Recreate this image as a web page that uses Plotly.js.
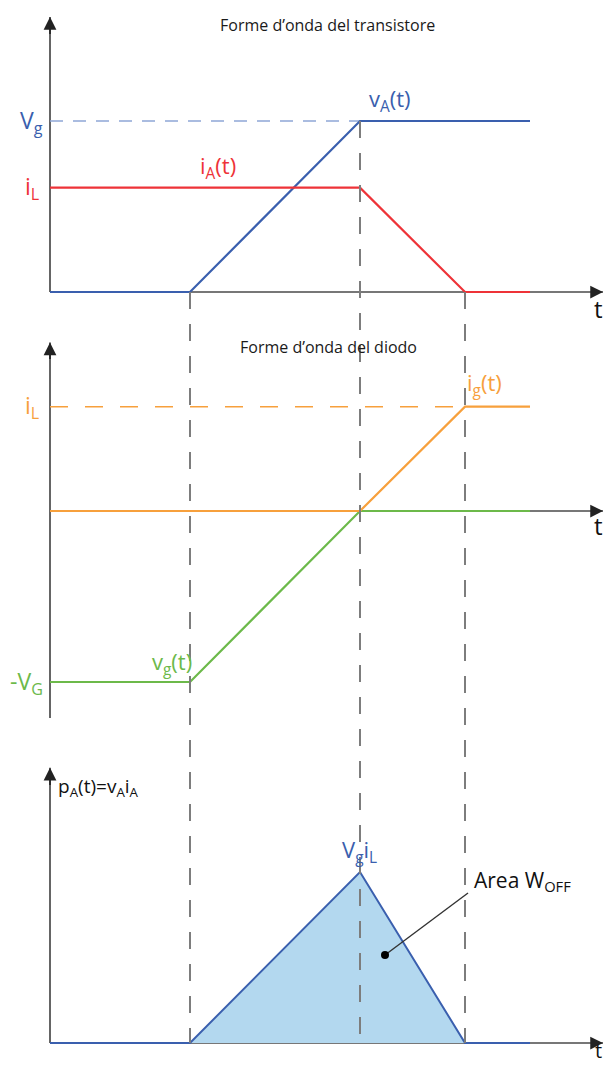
<!DOCTYPE html>
<html>
<head>
<meta charset="utf-8">
<script src="https://cdn.plot.ly/plotly-3.0.1.min.js"></script>
<style>
  html, body { margin: 0; padding: 0; background: #fff; }
  #chart { width: 605px; height: 1065px; }
</style>
</head>
<body>
<div id="chart"></div>
<script>
// Switching instants (normalised time units)
const switchTimes = [1.4, 3.1, 4.15];   // t1: v rises, t2: v = Vg / i starts falling, t3: i = 0
const tEnd = 4.8;

// Normalised levels
const levelVg = 1.0;     // Vg (and VG for the diode)
const levelIL = 0.61;    // iL relative to Vg

// Transistor waveforms
const timeVA = [0, 1.4, 3.1, 4.8];
const valVA  = [0, 0, 1.0, 1.0];
const timeIA = [0, 3.1, 4.15, 4.8];
const valIA  = [0.61, 0.61, 0, 0];

// Diode waveforms
const timeIG = [0, 3.1, 4.15, 4.8];
const valIG  = [0, 0, 0.61, 0.61];
const timeVG = [0, 1.4, 3.1, 4.8];
const valVG  = [-1.0, -1.0, 0, 0];

// Instantaneous transistor power, peak = Vg*iL
const timeP = [0, 1.4, 3.1, 4.15, 4.8];
const valP  = [0, 0, 1.0, 0, 0];

// Point inside the turn-off energy area and its label anchor
const areaPoint = [3.35, 0.515];
const areaLabel = [4.18, 0.877];

// ---- page geometry (pixels) ----
const W = 605, H = 1065;
const P1 = { top: 0,   bottom: 322, zero: 292,  unit: 171 };
const P2 = { top: 326, bottom: 735, zero: 511,  unit: 171 };
const P3 = { top: 740, bottom: 1065, zero: 1043, unit: 171 };

function axisFor(p) {
  return {
    domain: [(H - p.bottom) / H, (H - p.top) / H],
    range: [(p.zero - p.bottom) / p.unit, (p.zero - p.top) / p.unit],
    visible: false, anchor: 'x', fixedrange: true
  };
}
function paperY(p, v) { return (H - (p.zero - v * p.unit)) / H; }

const FONT = '"Open Sans", "Noto Sans", sans-serif';
const BLUE = '#3a5fae', RED = '#ee3338', ORANGE = '#f7a03c', GREEN = '#6cb94a';
const AXIS = '#4a4a4a', DASH = '#7d7d7d';
const X_TIP = 5.53;

const traces = [
  // reference levels
  { x: [0, switchTimes[1]], y: [levelVg, levelVg], yaxis: 'y', mode: 'lines',
    line: { color: '#8ea6d6', width: 1.6, dash: '13px,10px' } },
  { x: [0, switchTimes[2]], y: [levelIL, levelIL], yaxis: 'y2', mode: 'lines',
    line: { color: ORANGE, width: 1.6, dash: '18px,17px' } },

  // transistor
  { x: timeVA, y: valVA, yaxis: 'y', mode: 'lines', line: { color: BLUE, width: 2.2 } },
  { x: timeIA, y: valIA, yaxis: 'y', mode: 'lines', line: { color: RED, width: 2.2 } },

  // diode
  { x: timeVG, y: valVG, yaxis: 'y2', mode: 'lines', line: { color: GREEN, width: 2.2 } },
  { x: timeIG, y: valIG, yaxis: 'y2', mode: 'lines', line: { color: ORANGE, width: 2.2 } },

  // power
  { x: timeP, y: valP, yaxis: 'y3', mode: 'lines', fill: 'tozeroy',
    fillcolor: '#b3d8ef', line: { color: BLUE, width: 2 } },
];

// axis lines sit under the waveforms
function axisLine(yref, x0, y0, x1, y1) {
  return { type: 'line', xref: 'x', yref: yref, layer: 'below',
           x0: x0, y0: y0, x1: x1, y1: y1, line: { color: AXIS, width: 1.7 } };
}
const shapes = [
  axisLine('y', 0, 0, 0, 1.608),
  axisLine('y', 0, 0, X_TIP, 0),
  axisLine('y2', 0, -1.21, 0, 0.985),
  axisLine('y2', 0, 0, X_TIP, 0),
  axisLine('y3', 0, 0, 0, 1.61),
  axisLine('y3', 0, 0, X_TIP, 0),
];

switchTimes.forEach((t, i) => shapes.push({
  type: 'line', xref: 'x', yref: 'paper', layer: 'above',
  x0: t, x1: t,
  y0: paperY(P1, i === 1 ? levelVg : 0),
  y1: paperY(P3, 0),
  line: { color: DASH, width: 2, dash: '17px,15px' }
}));

// leader from the energy label to the area
shapes.push({
  type: 'line', xref: 'x', yref: 'y3', layer: 'above',
  x0: areaLabel[0], y0: areaLabel[1], x1: areaPoint[0], y1: areaPoint[1],
  line: { color: '#333', width: 1.4 }
});
shapes.push({
  type: 'circle', xref: 'x', yref: 'y3', layer: 'above',
  xsizemode: 'pixel', ysizemode: 'pixel',
  xanchor: areaPoint[0], yanchor: areaPoint[1],
  x0: -4, x1: 4, y0: -4, y1: 4,
  fillcolor: '#000', line: { color: '#000', width: 0 }
});

// arrowheads at the axis ends
function arrowHead(yref, x0, y0, x1, y1) {
  return {
    xref: 'x', yref: yref, axref: 'x', ayref: yref,
    x: x1, y: y1, ax: x0, ay: y0, text: '',
    showarrow: true, arrowhead: 2, arrowsize: 1.5, arrowwidth: 1.7,
    arrowcolor: '#222', standoff: 0, startstandoff: 0
  };
}
function label(yref, x, y, text, size, color, xanchor, weight) {
  return {
    xref: 'x', yref: yref, x: x, y: y, text: text, showarrow: false,
    xanchor: xanchor || 'center', yanchor: 'middle',
    font: { family: FONT, size: size, color: color, weight: weight || 500 }
  };
}

const annotations = [
  arrowHead('y', 0, 1.5, 0, 1.608),
  arrowHead('y', X_TIP - 0.1, 0, X_TIP, 0),
  arrowHead('y2', 0, 0.88, 0, 0.985),
  arrowHead('y2', X_TIP - 0.1, 0, X_TIP, 0),
  arrowHead('y3', 0, 1.5, 0, 1.61),
  arrowHead('y3', X_TIP - 0.1, 0, X_TIP, 0),

  // transistor panel
  label('y', 2.77, 1.56, 'Forme d’onda del transistore', 16, '#1a1a1a', 'center', 400),
  label('y', -0.05, levelVg, 'V<sub>g</sub>', 23, BLUE, 'right'),
  label('y', -0.09, levelIL, 'i<sub>L</sub>', 23, RED, 'right'),
  label('y', 3.4, 1.12, 'v<sub>A</sub>(t)', 22, BLUE),
  label('y', 1.68, 0.73, 'i<sub>A</sub>(t)', 22, RED),
  label('y', 5.48, -0.095, 't', 24, '#111', 'center', 400),

  // diode panel
  label('y2', 2.78, 0.96, 'Forme d’onda del diodo', 16, '#1a1a1a', 'center', 400),
  label('y2', -0.09, levelIL, 'i<sub>L</sub>', 23, ORANGE, 'right'),
  label('y2', 4.34, 0.74, 'i<sub>g</sub>(t)', 22, ORANGE),
  label('y2', -0.05, -levelVg, '-V<sub>G</sub>', 23, GREEN, 'right'),
  label('y2', 1.22, -0.89, 'v<sub>g</sub>(t)', 22, GREEN),
  label('y2', 5.48, -0.085, 't', 24, '#111', 'center', 400),

  // power panel
  label('y3', 0.06, 1.5, 'p<sub>A</sub>(t)=v<sub>A</sub>i<sub>A</sub>', 19, '#111', 'left'),
  label('y3', 3.09, 1.12, 'V<sub>g</sub>i<sub>L</sub>', 22, BLUE),
  label('y3', 4.22, 0.95, 'Area W<sub>OFF</sub>', 21, '#111', 'left'),
  label('y3', 5.48, -0.042, 't', 20, '#111', 'center', 400),
];

const layout = {
  width: W, height: H,
  margin: { l: 0, r: 0, t: 0, b: 0 },
  paper_bgcolor: '#fff', plot_bgcolor: 'rgba(0,0,0,0)',
  showlegend: false,
  xaxis: { range: [-0.5, 5.55], domain: [0, 1], visible: false, fixedrange: true, anchor: 'y' },
  yaxis: axisFor(P1),
  yaxis2: axisFor(P2),
  yaxis3: axisFor(P3),
  shapes: shapes,
  annotations: annotations,
  hovermode: false
};

Plotly.newPlot('chart', traces, layout, { displayModeBar: false, staticPlot: true });
</script>
</body>
</html>
